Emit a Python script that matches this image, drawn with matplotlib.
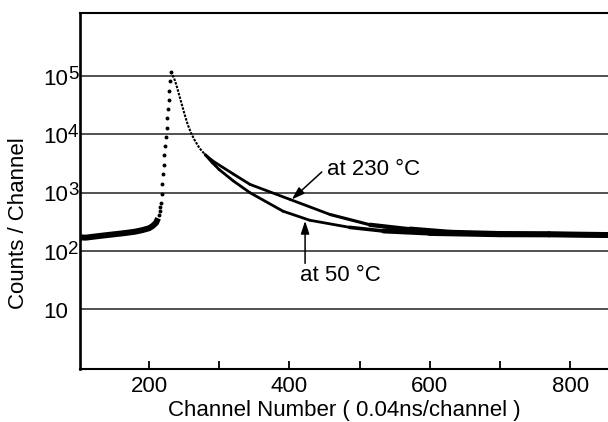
import matplotlib
matplotlib.use("Agg")
import matplotlib.pyplot as plt
from matplotlib.collections import LineCollection

# ---- data: positron lifetime spectrum (counts per channel) ----
# flat background before the prompt peak
bg_channels = [100, 110, 120, 130, 140, 150, 160, 170, 180, 190, 200, 205, 210, 213]
bg_counts = [172, 170, 176, 182, 188, 194, 200, 207, 215, 228, 246, 268, 305, 365]

# steep rising edge, one point per channel
rise_channels = [214, 215, 216, 217, 218, 219, 220, 221, 222, 223, 224, 225,
                 226, 227, 228, 229, 230, 231]
rise_counts = [420, 480, 560, 680, 950, 1400, 2100, 3000, 4400, 6300, 9000,
               13000, 19000, 27000, 39000, 56000, 82000, 118000]

# peak and early decay, common to both temperatures
peak_channels = [231, 233, 235, 237, 240, 244, 248, 251, 255, 260, 265, 272, 280]
peak_counts = [118000, 108000, 95000, 84000, 64000, 43000, 29000, 21500,
               15000, 10500, 8000, 5800, 4500]

# decay tails
hot_channels = [280, 291, 320, 344, 401, 458, 515, 572, 629, 700, 770, 854]
hot_counts = [4500, 3500, 2100, 1390, 768, 424, 282, 236, 208, 198, 196, 190]

cold_channels = [280, 290, 300, 320, 344, 391, 429, 486, 534, 600, 700, 770, 854]
cold_counts = [4500, 3300, 2500, 1600, 1000, 483, 338, 255, 221, 203, 193, 192, 187]

y_tick_exponents = [1, 2, 3, 4, 5]
x_major_ticks = [200, 400, 600, 800]
x_minor_ticks = [300, 500, 700]

# ---- style ----
plt.rcParams["font.family"] = ["Liberation Sans", "DejaVu Sans"]
FS = 16
ink = "black"

fig = plt.figure(figsize=(6.08, 4.22), dpi=100)
ax = fig.add_axes([80 / 608, 1 - 369 / 422, 528 / 608, 356 / 422])
ax.set_yscale("log")
ax.set_xlim(101.7, 854)
ax.set_ylim(10 ** -0.0215, 10 ** 6.082)

# horizontal decade lines
for e in y_tick_exponents:
    ax.axhline(10 ** e, color="#222222", lw=1.1, zorder=1)


def trace_width(ch):
    """Stroke width for the noisy tail: thin during the decay, broad in the flat tail."""
    if ch <= 470:
        return 2.0
    if ch >= 600:
        return 4.0
    return 2.0 + 2.0 * (ch - 470) / 130


def draw_trace(chs, cts):
    segs, widths = [], []
    for i in range(len(chs) - 1):
        segs.append([(chs[i], cts[i]), (chs[i + 1], cts[i + 1])])
        widths.append(trace_width(0.5 * (chs[i] + chs[i + 1])))
    lc = LineCollection(segs, linewidths=widths, colors=ink, capstyle="round",
                        joinstyle="round", zorder=3)
    ax.add_collection(lc)


ax.plot(bg_channels, bg_counts, color=ink, lw=4.3, solid_capstyle="butt", zorder=3)
ax.plot(rise_channels, rise_counts, ls="none", marker="o", ms=1.8, color=ink, zorder=3)
ax.plot(peak_channels, peak_counts, color=ink, lw=1.5, ls=(0, (1.2, 0.6)), zorder=3)
draw_trace(hot_channels, hot_counts)
draw_trace(cold_channels, cold_counts)

# ---- axes decoration ----
ax.spines["right"].set_visible(False)
ax.spines["left"].set_linewidth(1.9)
ax.spines["bottom"].set_linewidth(1.5)
ax.spines["top"].set_linewidth(1.5)

ax.set_xticks(x_major_ticks)
ax.set_xticks(x_minor_ticks, minor=True)
ax.set_xticklabels([str(t) for t in x_major_ticks])
ax.tick_params(axis="x", which="both", direction="in", length=6, width=1.3,
               labelsize=FS, pad=5)
ax.set_yticks([])
ax.set_yticks([], minor=True)

# y labels: "10" left-aligned, exponent raised
for e in y_tick_exponents:
    ax.annotate("10", xy=(-37 / 528, 10 ** e), xycoords=("axes fraction", "data"),
                xytext=(0, -8.5), textcoords="offset pixels",
                ha="left", va="baseline", fontsize=FS, annotation_clip=False)
    if e > 1:
        ax.annotate(str(e), xy=(-37 / 528, 10 ** e), xycoords=("axes fraction", "data"),
                    xytext=(25, -2.5), textcoords="offset pixels",
                    ha="left", va="baseline", fontsize=13.5, annotation_clip=False)

ax.set_xlabel("Channel Number ( 0.04ns/channel )", fontsize=FS, va="top")
ax.xaxis.set_label_coords(0.5, -0.087)
ax.set_ylabel("Counts / Channel", fontsize=FS, va="center")
ax.yaxis.set_label_coords(-61 / 528, 0.41)

# ---- annotations ----
arrow = dict(arrowstyle="-|>,head_length=0.55,head_width=0.18", color=ink, lw=1.1,
             shrinkA=0, shrinkB=0, mutation_scale=14)
ax.text(453.7, 1995, "at 230 °C", fontsize=FS, ha="left", va="baseline")
ax.annotate("", xy=(403.4, 768), xytext=(446.2, 2275), arrowprops=arrow)
ax.text(415.2, 30.3, "at 50 °C", fontsize=FS, ha="left", va="baseline")
ax.annotate("", xy=(422.4, 330), xytext=(422.4, 61.7), arrowprops=arrow)

fig.savefig("out.png", dpi=100)
